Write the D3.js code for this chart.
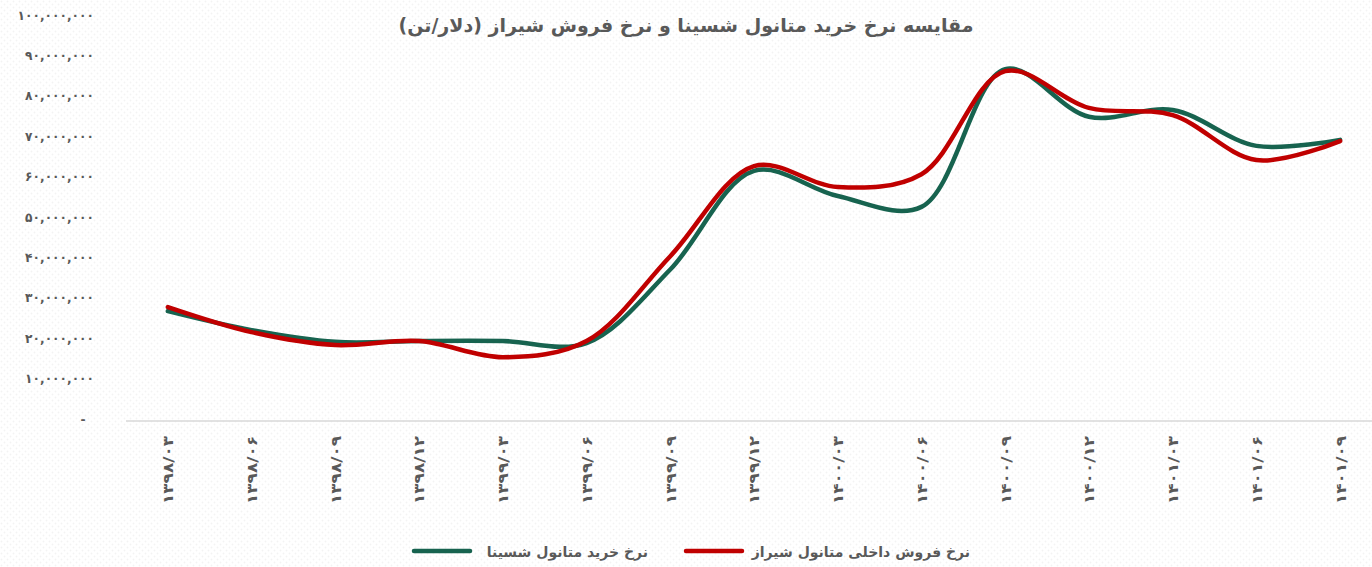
<!DOCTYPE html>
<html>
<head>
<meta charset="utf-8">
<script src="https://cdn.jsdelivr.net/npm/d3@7"></script>
<style>
  body { margin: 0; background: #fff; }
  svg { display: block; font-family: "DejaVu Sans", sans-serif; }
</style>
</head>
<body>
<div class="container"></div>
<script>
const width = 1372;
const height = 567;

const categories = ['۱۳۹۸/۰۳', '۱۳۹۸/۰۶', '۱۳۹۸/۰۹', '۱۳۹۸/۱۲', '۱۳۹۹/۰۳', '۱۳۹۹/۰۶', '۱۳۹۹/۰۹', '۱۳۹۹/۱۲',
  '۱۴۰۰/۰۳', '۱۴۰۰/۰۶', '۱۴۰۰/۰۹', '۱۴۰۰/۱۲', '۱۴۰۱/۰۳', '۱۴۰۱/۰۶', '۱۴۰۱/۰۹'];
const shasinaBuy = [26.7, 22.0, 19.1, 19.3, 19.3, 18.8, 37.0, 61.4, 55.2, 52.5, 86.6, 74.8, 76.5, 67.6, 69.1].map(v => v * 1e6);
const shirazSell = [27.7, 21.5, 18.3, 19.3, 15.3, 19.3, 40.3, 62.6, 57.4, 60.6, 86.1, 77.0, 75.2, 64.1, 68.8].map(v => v * 1e6);
const yTicks = [0, 10e6, 20e6, 30e6, 40e6, 50e6, 60e6, 70e6, 80e6, 90e6, 100e6];
const seriesNames = ['نرخ خرید متانول شسینا', 'نرخ فروش داخلی متانول شیراز'];
const seriesColors = ['#17634f', '#c00000'];
const title = 'مقایسه نرخ خرید متانول شسینا و نرخ فروش شیراز (دلار/تن)';

const faDigits = s => String(s).replace(/\d/g, d => '۰۱۲۳۴۵۶۷۸۹'[d]);
const textColor = '#595959';

const svg = d3.select('.container')
  .append('svg')
  .attr('width', width)
  .attr('height', height);

// faint dotted background
const pat = svg.append('defs').append('pattern')
  .attr('id', 'dots')
  .attr('width', 6).attr('height', 6)
  .attr('patternUnits', 'userSpaceOnUse');
pat.append('circle').attr('cx', 1.5).attr('cy', 1.5).attr('r', 0.9).attr('fill', '#f3f3f3');
pat.append('circle').attr('cx', 4.5).attr('cy', 4.5).attr('r', 0.9).attr('fill', '#f3f3f3');
svg.append('rect').attr('width', width).attr('height', height).attr('fill', 'url(#dots)');

const xScale = d3.scalePoint()
  .domain(categories)
  .range([126, 1382])
  .padding(0.5);

const yScale = d3.scaleLinear()
  .domain([0, 100e6])
  .range([419, 15]);

// title
svg.append('text')
  .attr('x', 686)
  .attr('y', 32)
  .attr('text-anchor', 'middle')
  .attr('direction', 'rtl')
  .attr('fill', textColor)
  .attr('font-size', 19)
  .attr('font-weight', 'bold')
  .text(title);

// y axis (labels only)
const yAxis = d3.axisLeft(yScale)
  .tickValues(yTicks)
  .tickSize(0)
  .tickPadding(0)
  .tickFormat(d => d === 0 ? '-' : faDigits(d3.format(',')(d)));
const gy = svg.append('g')
  .attr('transform', 'translate(94, 0)')
  .call(yAxis);
gy.select('.domain').remove();
gy.selectAll('text')
  .attr('fill', textColor)
  .attr('font-size', 13)
  .attr('font-weight', 'bold')
  .attr('font-family', '"DejaVu Sans", sans-serif')
  .attr('transform', 'scale(0.94, 1)');
gy.selectAll('.tick').filter(d => d === 0).select('text').attr('x', -9);

// x axis
const xAxis = d3.axisBottom(xScale).tickSize(0).tickPadding(0);
const gx = svg.append('g')
  .attr('transform', `translate(0, ${yScale(0) + 2})`)
  .call(xAxis);
gx.select('.domain')
  .attr('stroke', '#d9d9d9')
  .attr('stroke-width', 1.5)
  .attr('d', 'M126,0H1382');
gx.selectAll('text')
  .attr('fill', textColor)
  .attr('font-size', 14)
  .attr('font-weight', 'bold')
  .attr('font-family', '"DejaVu Sans", sans-serif')
  .attr('text-anchor', 'end')
  .attr('dy', '0.35em')
  .attr('textLength', 68)
  .attr('lengthAdjust', 'spacingAndGlyphs')
  .attr('transform', 'translate(0, 15) rotate(-90)');

// lines
const line = d3.line()
  .x((d, i) => xScale(categories[i]))
  .y(d => yScale(d))
  .curve(d3.curveCatmullRom.alpha(0.5));

[shasinaBuy, shirazSell].forEach((data, i) => {
  svg.append('path')
    .datum(data)
    .attr('fill', 'none')
    .attr('stroke', seriesColors[i])
    .attr('stroke-width', 4.5)
    .attr('stroke-linecap', 'round')
    .attr('stroke-linejoin', 'round')
    .attr('d', line);
});

// legend
const legendItems = [
  { x: 414, textX: 648 },
  { x: 686, textX: 970 }
];
legendItems.forEach((item, i) => {
  svg.append('line')
    .attr('x1', item.x).attr('x2', item.x + 56)
    .attr('y1', 551).attr('y2', 551)
    .attr('stroke', seriesColors[i])
    .attr('stroke-width', 4.5)
    .attr('stroke-linecap', 'round');
  svg.append('text')
    .attr('x', item.textX)
    .attr('y', 557)
    .attr('text-anchor', 'start')
    .attr('direction', 'rtl')
    .attr('fill', textColor)
    .attr('font-size', 14)
    .attr('font-weight', 'bold')
    .text(seriesNames[i]);
});
</script>
</body>
</html>
